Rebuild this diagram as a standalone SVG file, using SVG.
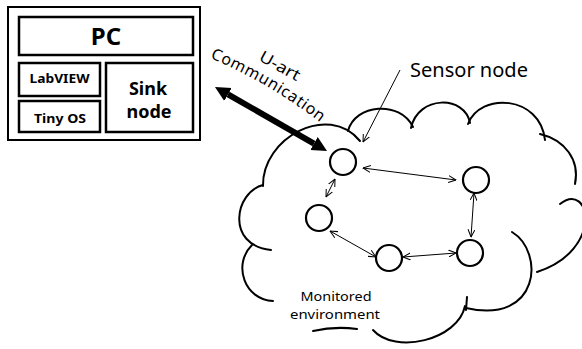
<svg xmlns="http://www.w3.org/2000/svg" width="582" height="349" viewBox="0 0 582 349">
<style>
  .box { fill: #fff; stroke: #000; stroke-width: 2.5; }
  .outer { fill: #fff; stroke: #000; stroke-width: 2; }
  .b { font-family: "Noto Sans", "Open Sans", sans-serif; font-weight: bold; fill: #000; text-anchor: middle; }
  .r { font-family: "Noto Sans", "Open Sans", sans-serif; fill: #000; }
  .cloud { fill: none; stroke: #000; stroke-width: 2; stroke-linecap: round; }
  .node { fill: #fff; stroke: #000; stroke-width: 2.2; }
  .thin { fill: none; stroke: #000; stroke-width: 1; marker-start: url(#oa); marker-end: url(#oa); }
</style>
<defs>
  <marker id="oa" viewBox="0 0 8 8" refX="7.5" refY="4" markerWidth="8" markerHeight="8" markerUnits="userSpaceOnUse" orient="auto-start-reverse">
    <path d="M0,0.5 L7.5,4 L0,7.5" fill="none" stroke="#000" stroke-width="1"/>
  </marker>
  <marker id="oa1" viewBox="0 0 8 8" refX="7.5" refY="4" markerWidth="8" markerHeight="8" markerUnits="userSpaceOnUse" orient="auto">
    <path d="M0,0.5 L7.5,4 L0,7.5" fill="none" stroke="#000" stroke-width="1"/>
  </marker>
  <marker id="fa" viewBox="0 -8 15 16" refX="0" refY="0" markerWidth="15" markerHeight="16" markerUnits="userSpaceOnUse" orient="auto-start-reverse">
    <path d="M0,-7.5 L15,0 L0,7.5 z" fill="#000"/>
  </marker>
  <path id="commPath" d="M210,58 Q 270,83 325,126"/>
</defs>

<g id="pc-system">
  <rect class="outer" x="8" y="7" width="192" height="133"/>
  <g id="pc">
    <rect class="box" x="19" y="17" width="174" height="38"/>
    <text class="b" x="106" y="45" font-size="24">PC</text>
  </g>
  <g id="labview">
    <rect class="box" x="19" y="63" width="81" height="33"/>
    <text class="b" x="59.5" y="83" font-size="11.5" textLength="60" lengthAdjust="spacingAndGlyphs">LabVIEW</text>
  </g>
  <g id="tinyos">
    <rect class="box" x="19" y="101" width="81" height="31"/>
    <text class="b" x="60" y="123" font-size="13" textLength="52" lengthAdjust="spacingAndGlyphs">Tiny OS</text>
  </g>
  <g id="sink">
    <rect class="box" x="106" y="63" width="87" height="69"/>
    <text class="b" x="148" y="95" font-size="18">Sink</text>
    <text class="b" x="149" y="118" font-size="18">node</text>
  </g>
</g>

<g id="cloud">
  <path class="cloud" d="M263,186 C 262,138 328,102 360,141"/>
  <path class="cloud" d="M348,131 C 355,104 400,100 413,127"/>
  <path class="cloud" d="M411,128 C 418,95 465,95 470,123"/>
  <path class="cloud" d="M468,124 C 480,92 540,95 545,140"/>
  <path class="cloud" d="M540,134 C 565,140 580,160 575,184"/>
  <path class="cloud" d="M560,204 C 590,180 605,250 537,272"/>
  <path class="cloud" d="M512,232 C 545,252 540,325 466,308"/>
  <path class="cloud" d="M467,297 L466,310"/>
  <path class="cloud" d="M465,306 C 458,340 395,355 373,330"/>
  <path class="cloud" d="M313,331 Q 335,326 357,329"/>
  <path class="cloud" d="M273,301 C 245,300 232,265 252,245"/>
  <path class="cloud" d="M263,185 C 235,192 225,245 271,250"/>
</g>

<g id="sensor-nodes">
  <circle id="n1" class="node" cx="343" cy="162" r="13"/>
  <circle id="n2" class="node" cx="476" cy="180" r="13"/>
  <circle id="n3" class="node" cx="319" cy="218" r="13"/>
  <circle id="n4" class="node" cx="389" cy="258" r="13"/>
  <circle id="n5" class="node" cx="470" cy="253" r="13"/>
</g>

<g id="connectors">
  <line class="thin" x1="363" y1="168" x2="456" y2="180"/>
  <line class="thin" x1="335" y1="179" x2="326" y2="197"/>
  <line class="thin" x1="474" y1="193" x2="471" y2="237"/>
  <line class="thin" x1="330" y1="231" x2="376" y2="257"/>
  <line class="thin" x1="403" y1="257" x2="456" y2="253"/>
  <line x1="400" y1="70" x2="363" y2="142" stroke="#000" stroke-width="1" marker-end="url(#oa1)"/>
  <line x1="228" y1="94.4" x2="314" y2="143.6" stroke="#000" stroke-width="6" marker-start="url(#fa)" marker-end="url(#fa)"/>
</g>

<g id="labels">
  <text class="r" font-size="16"><textPath href="#commPath" textLength="128" lengthAdjust="spacing">Communication</textPath></text>
  <text class="r" font-size="16" transform="translate(258,60) rotate(29)" textLength="44" lengthAdjust="spacingAndGlyphs">U-art</text>
  <text class="r" x="410" y="77" font-size="19" textLength="118" lengthAdjust="spacingAndGlyphs">Sensor node</text>
  <text class="r" x="336" y="301" font-size="13" text-anchor="middle" fill="#222" textLength="71" lengthAdjust="spacingAndGlyphs">Monitored</text>
  <text class="r" x="335" y="319" font-size="13" text-anchor="middle" fill="#222" textLength="90" lengthAdjust="spacingAndGlyphs">environment</text>
</g>
</svg>
